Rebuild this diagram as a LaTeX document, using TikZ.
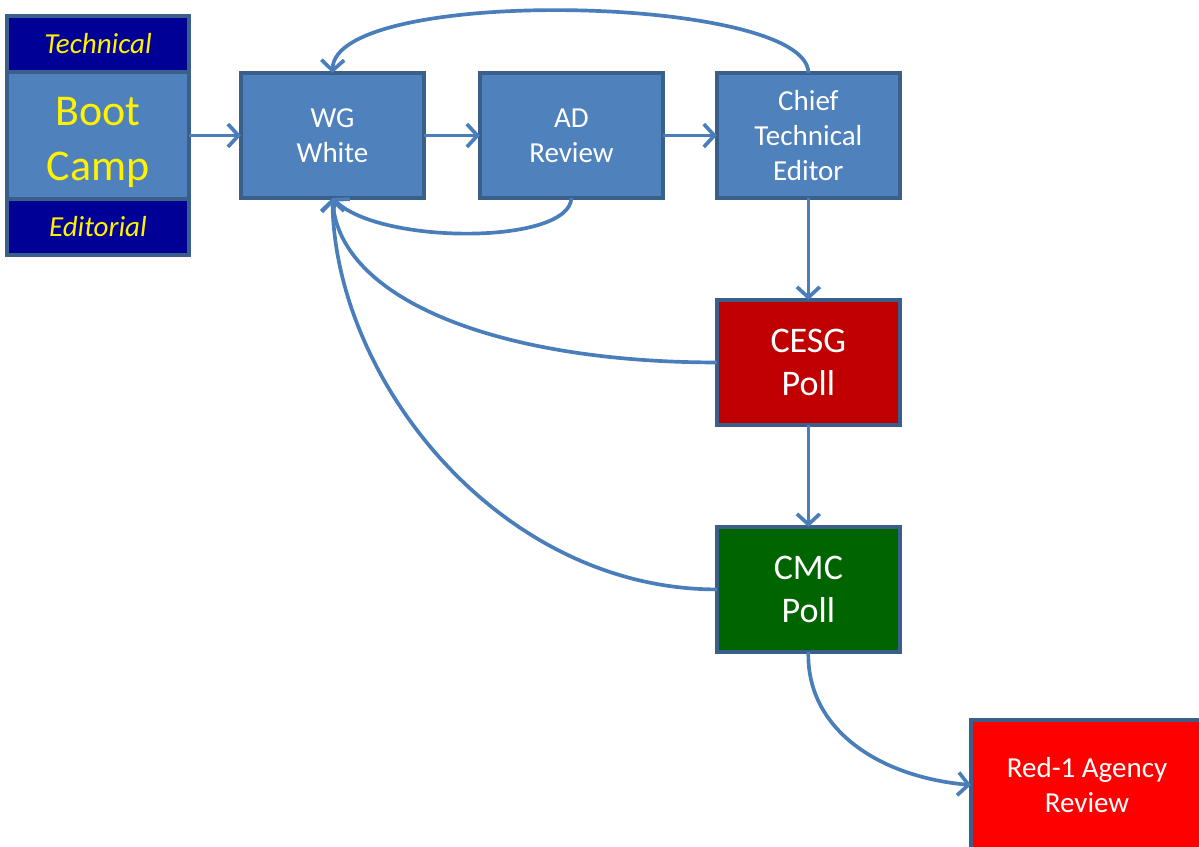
\documentclass[tikz,border=0pt]{standalone}
\usepackage{fontspec}
\setmainfont{Carlito}
\usetikzlibrary{positioning, arrows.meta}
\definecolor{boxblue}{HTML}{4F81BD}
\definecolor{boxline}{HTML}{3A5F8B}
\definecolor{campnavy}{HTML}{000096}
\definecolor{cesgred}{HTML}{C00000}
\definecolor{cmcgreen}{HTML}{006400}
\definecolor{agencyred}{HTML}{FF0000}
\definecolor{flowline}{HTML}{4A7EBB}
\tikzset{
  stage/.style={
	draw=boxline, line width=2.1pt, % dark blue outline
	fill=boxblue, text=white,
	align=center, inner sep=0pt, outer sep=0pt,
	minimum width=3.66cm, minimum height=2.5cm,
	font=\fontsize{16.5}{20}\selectfont,
  },
  poll/.style={stage, font=\fontsize{20.5}{25}\selectfont},
  campband/.style={stage, fill=campnavy, text=yellow, minimum width=3.64cm, minimum height=1.12cm,
	font=\fontsize{16.5}{20}\selectfont\itshape},
  flow/.style={
	draw=flowline, line width=2.1pt,
	-{Straight Barb[length=6pt,width=13pt,line width=2.1pt]}, % open arrow head
  }
}
\begin{document}
\begin{tikzpicture}[x=0.02cm, y=-0.02cm]
\useasboundingbox (0,0) rectangle (1199,846);

% boot camp block
\node[stage, text=yellow, minimum width=3.64cm, minimum height=2.54cm,
  font=\fontsize{25}{31}\selectfont] (boot) at (98,135.5) {\rule{0pt}{24pt}Boot\\Camp};
\node[campband, above=0cm of boot] (tech) {Technical};
\node[campband, below=0cm of boot] (edit) {Editorial};

% main line
\node[stage, right=1.04cm of boot] (wg) {WG\\White};
\node[stage, right=1.12cm of wg] (ad) {AD\\Review};
\node[stage, right=1.08cm of ad] (cte) {Chief\\Technical\\Editor};
\node[poll, fill=cesgred, below=2.04cm of cte] (cesg) {CESG\\Poll};
\node[poll, fill=cmcgreen, below=2.04cm of cesg] (cmc) {CMC\\Poll};
\node[stage, fill=agencyred, minimum width=4.64cm, minimum height=2.6cm] (agency) at (1087,785) {Red-1 Agency\\Review};

\draw[flow] (boot) -- (wg);
\draw[flow] (wg) -- (ad);
\draw[flow] (ad) -- (cte);
\draw[flow] (cte) -- (cesg);
\draw[flow] (cesg) -- (cmc);

% loops back to the working group
\draw[flow] (cte.north) .. controls ++(0,-78) and ++(2,-88) .. (wg.north);
\draw[flow] (ad.south) .. controls ++(-2,47) and ++(47,47) .. (wg.south);
\draw[flow] (cesg.west) .. controls ++(-217,0) and ++(7,102) .. (wg.south);
\draw[flow] (cmc.west) .. controls ++(-217,0) and ++(2,182) .. (wg.south);
\draw[flow] (cmc.south) .. controls ++(-2,78) and ++(-91,-8) .. (agency.west);
\end{tikzpicture}
\end{document}
